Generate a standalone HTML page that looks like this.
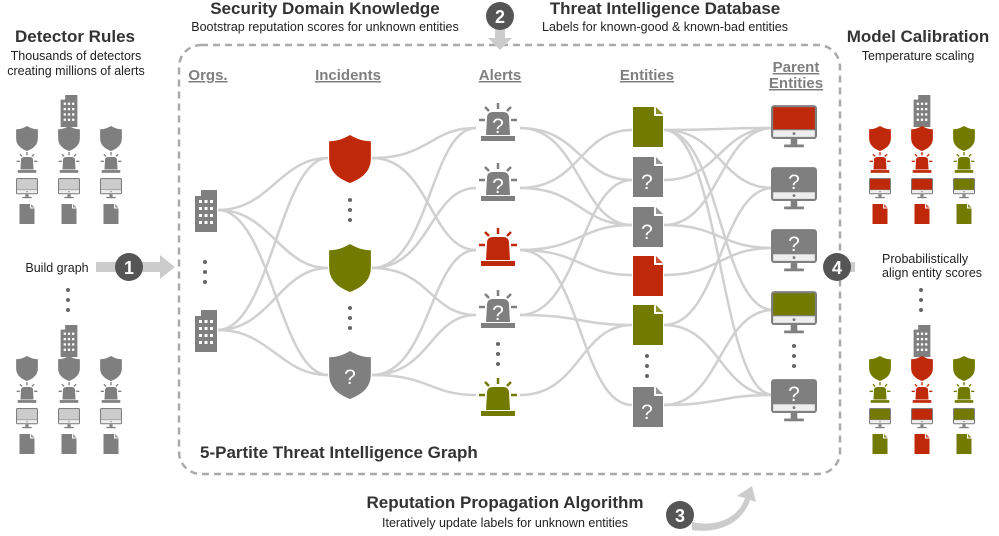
<!DOCTYPE html>
<html><head><meta charset="utf-8"><style>
html,body{margin:0;padding:0;background:#fff;}
svg{display:block;font-family:"Liberation Sans",Arial,sans-serif;}
.h{font-weight:bold;font-size:17px;fill:#333;text-anchor:middle;}
.s{font-size:12.5px;fill:#222;text-anchor:middle;}
.c{font-weight:bold;font-size:15px;fill:#7f7f7f;text-anchor:middle;text-decoration:underline;}
.q{font-size:21px;fill:#fff;text-anchor:middle;}
.e path{fill:none;stroke:#d0d0d0;stroke-width:2.5;}
.dot{fill:#666;}
</style></head><body>
<svg width="999" height="536" viewBox="0 0 999 536">
<defs>
<symbol id="bld" viewBox="0 0 26 42" overflow="visible">
<path d="M2 6 L8 6 L8 0 L24 0 L24 42 L2 42Z" fill="currentColor"/>
<g fill="#fff"><rect x="6" y="10" width="3" height="3"/><rect x="11.5" y="10" width="3" height="3"/><rect x="17" y="10" width="3" height="3"/>
<rect x="6" y="17" width="3" height="3"/><rect x="11.5" y="17" width="3" height="3"/><rect x="17" y="17" width="3" height="3"/>
<rect x="6" y="24" width="3" height="3"/><rect x="11.5" y="24" width="3" height="3"/><rect x="17" y="24" width="3" height="3"/>
<rect x="6" y="31" width="3" height="3"/><rect x="11.5" y="31" width="3" height="3"/><rect x="17" y="31" width="3" height="3"/></g>
</symbol>
<symbol id="shd" viewBox="0 0 40 46" overflow="visible">
<path d="M20 0 C13 4 7 6 0 6 L0 22 C0 36 10 42 20 46 C30 42 40 36 40 22 L40 6 C33 6 27 4 20 0Z" fill="currentColor"/>
</symbol>
<symbol id="alm" viewBox="0 0 44 40" overflow="visible">
<g stroke="currentColor" stroke-width="2.5"><line x1="22" y1="0" x2="22" y2="6"/><line x1="9" y1="4" x2="13" y2="8"/><line x1="35" y1="4" x2="31" y2="8"/><line x1="3" y1="17" x2="9" y2="17"/><line x1="35" y1="17" x2="41" y2="17"/></g>
<path d="M11 15 Q11 9 17 9 L27 9 Q33 9 33 15 L34 32 L10 32Z" fill="currentColor"/>
<rect x="5" y="33" width="34" height="5" fill="currentColor"/>
</symbol>
<symbol id="mon" viewBox="0 0 42 40" overflow="visible">
<rect x="0" y="0" width="42" height="31" rx="3" fill="#7f7f7f"/>
<rect x="2" y="2" width="38" height="20" fill="currentColor"/>
<rect x="2" y="23" width="38" height="6" fill="#eee"/>
<circle cx="21" cy="26" r="1.3" fill="#7f7f7f"/>
<rect x="18" y="31" width="6" height="5" fill="#7f7f7f"/>
<rect x="12" y="36" width="18" height="2.5" fill="#7f7f7f"/>
</symbol>
<symbol id="doc" viewBox="0 0 30 40" overflow="visible">
<path d="M0 0 L21 0 L30 9 L30 40 L0 40Z" fill="currentColor"/>
<path d="M21 0 L30 9 L21 9Z" fill="#fff"/>
<path d="M23 0 L30 7 L23 7Z" fill="currentColor" opacity="0.8"/>
</symbol>
</defs>

<rect x="179" y="45" width="661" height="429" rx="22" fill="none" stroke="#aaa" stroke-width="2.5" stroke-dasharray="7,5"/>

<g class="e">
<path d="M218 210 C270 210 280 158 328 158"/>
<path d="M218 210 C270 210 280 268 328 268"/>
<path d="M218 210 C270 210 280 375 328 375"/>
<path d="M218 330 C270 330 280 158 328 158"/>
<path d="M218 330 C270 330 280 268 328 268"/>
<path d="M218 330 C270 330 280 375 328 375"/>

<path d="M372 158 C430 158 430 128 476 128"/>
<path d="M372 158 C430 158 430 250 476 250"/>
<path d="M372 268 C430 268 430 188 476 188"/>
<path d="M372 268 C430 268 430 315 476 315"/>
<path d="M372 375 C430 375 430 250 476 250"/>
<path d="M372 375 C430 375 430 395 476 395"/>
<path d="M372 268 C430 268 430 128 476 128"/>
<path d="M372 375 C430 375 430 315 476 315"/>

<path d="M520 128 C580 128 580 225 632 225"/>
<path d="M520 128 C580 128 580 180 632 180"/>
<path d="M520 188 C580 188 580 130 632 130"/>
<path d="M520 188 C580 188 580 225 632 225"/>
<path d="M520 250 C580 250 580 225 632 225"/>
<path d="M520 250 C580 250 580 275 632 275"/>
<path d="M520 250 C580 250 580 405 632 405"/>
<path d="M520 315 C580 315 580 180 632 180"/>
<path d="M520 315 C580 315 580 325 632 325"/>
<path d="M520 395 C580 395 580 325 632 325"/>

<path d="M664 130 C720 130 720 128 773 128"/>
<path d="M664 130 C720 130 720 188 773 188"/>
<path d="M664 130 C720 130 720 310 773 310"/>
<path d="M664 130 C720 130 720 395 773 395"/>
<path d="M664 180 C720 180 720 128 773 128"/>
<path d="M664 225 C720 225 720 128 773 128"/>
<path d="M664 225 C720 225 720 248 773 248"/>
<path d="M664 275 C720 275 720 248 773 248"/>
<path d="M664 325 C720 325 720 188 773 188"/>
<path d="M664 325 C720 325 720 395 773 395"/>
<path d="M664 405 C720 405 720 310 773 310"/>
<path d="M664 405 C720 405 720 395 773 395"/>
</g>

<text class="c" x="208" y="80">Orgs.</text>
<text class="c" x="348" y="80">Incidents</text>
<text class="c" x="500" y="80">Alerts</text>
<text class="c" x="647" y="80">Entities</text>
<text class="c" x="796" y="72">Parent</text>
<text class="c" x="796" y="88">Entities</text>

<use href="#bld" x="193" y="190" width="26" height="42" color="#7f7f7f"/>
<use href="#bld" x="193" y="310" width="26" height="42" color="#7f7f7f"/>
<g class="dot"><circle cx="205" cy="262" r="2"/><circle cx="205" cy="272" r="2"/><circle cx="205" cy="282" r="2"/></g>

<use href="#shd" x="329" y="135" width="42" height="48" color="#c0280a"/>
<use href="#shd" x="329" y="244" width="42" height="48" color="#737a00"/>
<use href="#shd" x="329" y="351" width="42" height="48" color="#7f7f7f"/>
<text class="q" x="350" y="384">?</text>
<g class="dot"><circle cx="350" cy="200" r="2"/><circle cx="350" cy="210" r="2"/><circle cx="350" cy="220" r="2"/>
<circle cx="350" cy="308" r="2"/><circle cx="350" cy="318" r="2"/><circle cx="350" cy="328" r="2"/></g>

<use href="#alm" x="476" y="103" width="44" height="40" color="#7f7f7f"/><text class="q" x="498" y="133">?</text>
<use href="#alm" x="476" y="163" width="44" height="40" color="#7f7f7f"/><text class="q" x="498" y="193">?</text>
<use href="#alm" x="476" y="228" width="44" height="40" color="#c0280a"/>
<use href="#alm" x="476" y="290" width="44" height="40" color="#7f7f7f"/><text class="q" x="498" y="320">?</text>
<use href="#alm" x="476" y="378" width="44" height="40" color="#737a00"/>
<g class="dot"><circle cx="498" cy="344" r="2"/><circle cx="498" cy="354" r="2"/><circle cx="498" cy="364" r="2"/></g>

<use href="#doc" x="633" y="107" width="30" height="40" color="#737a00"/>
<use href="#doc" x="633" y="157" width="30" height="40" color="#7f7f7f"/><text class="q" x="647" y="189">?</text>
<use href="#doc" x="633" y="207" width="30" height="40" color="#7f7f7f"/><text class="q" x="647" y="239">?</text>
<use href="#doc" x="633" y="256" width="30" height="40" color="#c0280a"/>
<use href="#doc" x="633" y="305" width="30" height="40" color="#737a00"/>
<use href="#doc" x="633" y="387" width="30" height="40" color="#7f7f7f"/><text class="q" x="647" y="419">?</text>
<g class="dot"><circle cx="647" cy="356" r="2"/><circle cx="647" cy="366" r="2"/><circle cx="647" cy="376" r="2"/></g>

<use href="#mon" x="771" y="105" width="46" height="44" color="#c0280a"/>
<use href="#mon" x="771" y="167" width="46" height="44" color="#7f7f7f"/><text class="q" x="794" y="189">?</text>
<use href="#mon" x="771" y="229" width="46" height="44" color="#7f7f7f"/><text class="q" x="794" y="251">?</text>
<use href="#mon" x="771" y="291" width="46" height="44" color="#737a00"/>
<use href="#mon" x="771" y="379" width="46" height="44" color="#7f7f7f"/><text class="q" x="794" y="401">?</text>
<g class="dot"><circle cx="794" cy="346" r="2"/><circle cx="794" cy="356" r="2"/><circle cx="794" cy="366" r="2"/></g>

<g id="lt">
<use href="#bld" x="59" y="95" width="20" height="32" color="#7f7f7f"/>
<use href="#shd" x="16" y="126" width="22" height="25" color="#7f7f7f"/>
<use href="#shd" x="58" y="126" width="22" height="25" color="#7f7f7f"/>
<use href="#shd" x="100" y="126" width="22" height="25" color="#7f7f7f"/>
<use href="#alm" x="15" y="152" width="24" height="22" color="#7f7f7f"/>
<use href="#alm" x="57" y="152" width="24" height="22" color="#7f7f7f"/>
<use href="#alm" x="99" y="152" width="24" height="22" color="#7f7f7f"/>
<use href="#mon" x="16" y="178" width="22" height="21" color="#ccc"/>
<use href="#mon" x="58" y="178" width="22" height="21" color="#ccc"/>
<use href="#mon" x="100" y="178" width="22" height="21" color="#ccc"/>
<use href="#doc" x="19" y="204" width="16" height="20" color="#7f7f7f"/>
<use href="#doc" x="61" y="204" width="16" height="20" color="#7f7f7f"/>
<use href="#doc" x="103" y="204" width="16" height="20" color="#7f7f7f"/>
</g>
<use href="#lt" x="0" y="230"/>
<g class="dot"><circle cx="68" cy="290" r="2"/><circle cx="68" cy="300" r="2"/><circle cx="68" cy="310" r="2"/></g>

<g>
<use href="#bld" x="912" y="95" width="20" height="32" color="#7f7f7f"/>
<use href="#shd" x="869" y="126" width="22" height="25" color="#c0280a"/>
<use href="#shd" x="911" y="126" width="22" height="25" color="#c0280a"/>
<use href="#shd" x="953" y="126" width="22" height="25" color="#737a00"/>
<use href="#alm" x="868" y="152" width="24" height="22" color="#c0280a"/>
<use href="#alm" x="910" y="152" width="24" height="22" color="#c0280a"/>
<use href="#alm" x="952" y="152" width="24" height="22" color="#737a00"/>
<use href="#mon" x="869" y="178" width="22" height="21" color="#c0280a"/>
<use href="#mon" x="911" y="178" width="22" height="21" color="#c0280a"/>
<use href="#mon" x="953" y="178" width="22" height="21" color="#737a00"/>
<use href="#doc" x="872" y="204" width="16" height="20" color="#c0280a"/>
<use href="#doc" x="914" y="204" width="16" height="20" color="#c0280a"/>
<use href="#doc" x="956" y="204" width="16" height="20" color="#737a00"/>
</g>
<g transform="translate(0,230)">
<use href="#bld" x="912" y="95" width="20" height="32" color="#7f7f7f"/>
<use href="#shd" x="869" y="126" width="22" height="25" color="#737a00"/>
<use href="#shd" x="911" y="126" width="22" height="25" color="#c0280a"/>
<use href="#shd" x="953" y="126" width="22" height="25" color="#737a00"/>
<use href="#alm" x="868" y="152" width="24" height="22" color="#737a00"/>
<use href="#alm" x="910" y="152" width="24" height="22" color="#c0280a"/>
<use href="#alm" x="952" y="152" width="24" height="22" color="#737a00"/>
<use href="#mon" x="869" y="178" width="22" height="21" color="#737a00"/>
<use href="#mon" x="911" y="178" width="22" height="21" color="#c0280a"/>
<use href="#mon" x="953" y="178" width="22" height="21" color="#737a00"/>
<use href="#doc" x="872" y="204" width="16" height="20" color="#737a00"/>
<use href="#doc" x="914" y="204" width="16" height="20" color="#c0280a"/>
<use href="#doc" x="956" y="204" width="16" height="20" color="#737a00"/>
</g>
<g class="dot"><circle cx="921" cy="290" r="2"/><circle cx="921" cy="300" r="2"/><circle cx="921" cy="310" r="2"/></g>

<path d="M96 262 L160 262 L160 255 L175 267 L160 279 L160 272 L96 272Z" fill="#ccc"/>
<path d="M495 28 L505 28 L505 38 L512 38 L500 50 L488 38 L495 38Z" fill="#ccc"/>
<path d="M845 262 L855 262 L855 272 L845 272Z" fill="#ccc"/>
<path d="M692 522 C720 528 740 515 745 498 L737 496 L752 486 L756 502 L750 500 C743 522 720 534 692 530Z" fill="#ccc"/>

<g font-weight="bold" font-size="18" fill="#fff" text-anchor="middle">
<circle cx="129" cy="267" r="14" fill="#555"/><text x="129" y="274" fill="#fff">1</text>
<circle cx="500" cy="16" r="14" fill="#555"/><text x="500" y="23" fill="#fff">2</text>
<circle cx="680" cy="515" r="14" fill="#555"/><text x="680" y="522" fill="#fff">3</text>
<circle cx="837" cy="267" r="14" fill="#555"/><text x="837" y="274" fill="#fff">4</text>
</g>

<text class="h" x="75" y="42">Detector Rules</text>
<text class="s" x="76" y="60">Thousands of detectors</text>
<text class="s" x="76" y="75">creating millions of alerts</text>
<text class="h" x="325" y="14">Security Domain Knowledge</text>
<text class="s" x="325" y="31">Bootstrap reputation scores for unknown entities</text>
<text class="h" x="665" y="14">Threat Intelligence Database</text>
<text class="s" x="665" y="31">Labels for known-good &amp; known-bad entities</text>
<text class="h" x="918" y="42">Model Calibration</text>
<text class="s" x="918" y="60">Temperature scaling</text>
<text class="s" x="57" y="272">Build graph</text>
<text class="s" x="882" y="263" style="text-anchor:start">Probabilistically</text>
<text class="s" x="882" y="277" style="text-anchor:start">align entity scores</text>
<text class="h" x="200" y="458" style="text-anchor:start">5-Partite Threat Intelligence Graph</text>
<text class="h" x="505" y="508">Reputation Propagation Algorithm</text>
<text class="s" x="505" y="527">Iteratively update labels for unknown entities</text>
</svg>
</body></html>
